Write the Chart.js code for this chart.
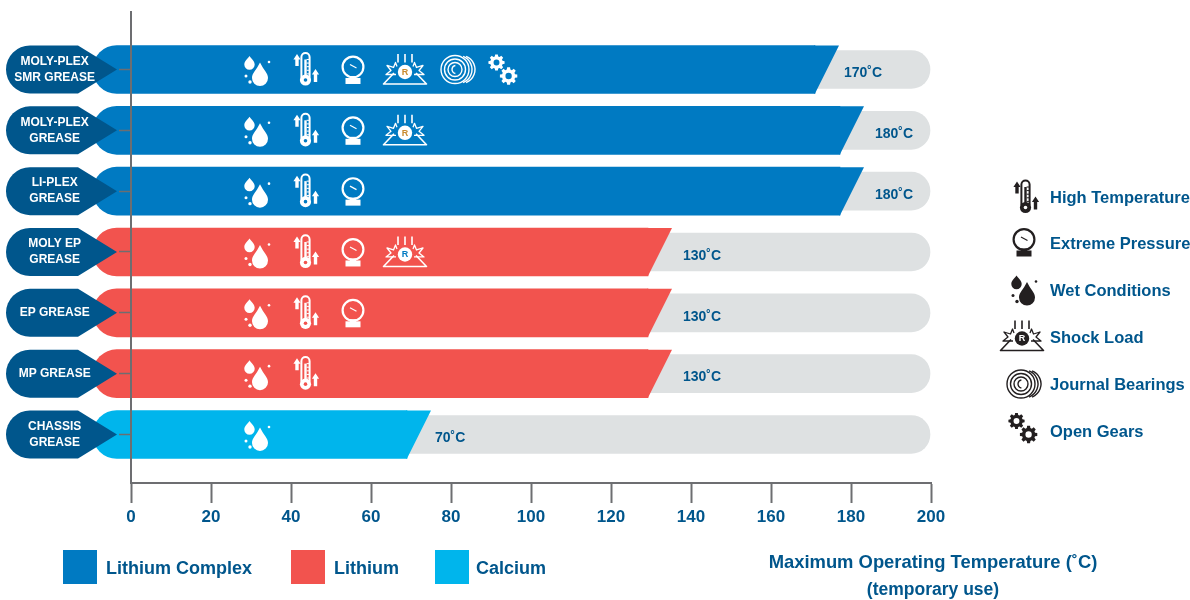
<!DOCTYPE html>
<html><head><meta charset="utf-8">
<style>html,body{margin:0;padding:0;background:#fff}canvas{display:block}</style>
<script src="https://cdn.jsdelivr.net/npm/chart.js@4/dist/chart.umd.min.js"></script>
</head><body><canvas id="c" width="1190" height="600"></canvas>
<script>
const categories = [["MOLY-PLEX","SMR GREASE"],["MOLY-PLEX","GREASE"],["LI-PLEX","GREASE"],["MOLY EP","GREASE"],"EP GREASE","MP GREASE",["CHASSIS","GREASE"]];
const lithiumComplexEnds = [171, 177.25, 177.25, null, null, null, null];
const lithiumEnds = [null, null, null, 129.25, 129.25, 129.25, null];
const calciumEnds = [null, null, null, null, null, null, 69];
const tempLabels = ["170˚C","180˚C","180˚C","130˚C","130˚C","130˚C","70˚C"];
const trackEnds = [199.75,199.75,199.75,199.75,199.75,199.75,199.75];
const iconCounts = [6,4,3,4,3,2,1];
const xTicks = [0,20,40,60,80,100,120,140,160,180,200];
const seriesNames = ["Lithium Complex","Lithium","Calcium"];
const legendIconNames = ["High Temperature","Extreme Pressure","Wet Conditions","Shock Load","Journal Bearings","Open Gears"];

const BLUE='#007ac2', RED='#f2534e', CYAN='#00b5ec', GREY='#dee1e2', NAVY='#00568c', AXIS='#6d6e71', INK='#231f20';
const FONT='"Liberation Sans", Arial, sans-serif';
const BAR_START=-9.5, SLANT=24;

function series(ends){return ends.map((v,i)=>v==null?null:{x:[BAR_START,v],y:i}).filter(Boolean);}

/* icons: local coordinates, origin = icon centre */
function drop(x,cy,r,tipY,c){
  x.beginPath();x.moveTo(c,tipY);
  x.bezierCurveTo(c+r*0.45,cy-r*1.0,c+r,cy-r*0.6,c+r,cy);
  x.arc(c,cy,r,0,Math.PI);
  x.bezierCurveTo(c-r,cy-r*0.6,c-r*0.45,cy-r*1.0,c,tipY);
  x.closePath();x.fill();
}
function dot(x,a,b,r){x.beginPath();x.arc(a,b,r,0,Math.PI*2);x.fill();}
function iconWet(x){
  drop(x,8.5,8,-7,3);drop(x,-5,5.2,-13.5,-7.5);
  dot(x,12,-7.5,1.3);dot(x,-11,6.5,1.5);dot(x,-7,12.5,1.7);
}
function arrow(x,c,top,bot){
  x.beginPath();x.moveTo(c,top);x.lineTo(c+3.6,top+5.5);x.lineTo(c+1.7,top+5.5);x.lineTo(c+1.7,bot);
  x.lineTo(c-1.7,bot);x.lineTo(c-1.7,top+5.5);x.lineTo(c-3.6,top+5.5);x.closePath();x.fill();
}
function iconTemp(x,bg){
  arrow(x,-9,-15.5,-3.5);arrow(x,9.5,-0.5,12.5);
  x.lineWidth=2;x.beginPath();x.moveTo(-4.6,8);x.lineTo(-4.6,-12.5);x.arc(-0.5,-12.5,4.1,Math.PI,0);x.lineTo(3.6,8);x.stroke();
  dot(x,-0.5,10.5,5.6);
  x.fillRect(-1.7,-10,2.4,18);
  x.lineWidth=1;for(let i=0;i<5;i++){x.beginPath();x.moveTo(0.6,-10+i*3.6);x.lineTo(3,-10+i*3.6);x.stroke();}
  x.fillStyle=bg;dot(x,-0.5,10.5,1.8);
}
function iconPressure(x){
  x.lineWidth=2.2;x.beginPath();x.arc(0,-2.5,10.4,0,Math.PI*2);x.stroke();
  x.lineWidth=1.2;x.beginPath();x.moveTo(-3,-5);x.lineTo(3.5,-1.5);x.stroke();
  x.fillRect(-3,6.5,6,3);
  x.fillRect(-7.5,8.5,15,6);
}
function iconShock(x,accent,circle){
  x.lineWidth=1.6;
  [-7,0,7].forEach(a=>{x.beginPath();x.moveTo(a,-15.5);x.lineTo(a,-7);x.stroke();});
  x.beginPath();x.moveTo(-11,3.5);x.lineTo(-21.5,14.5);x.lineTo(21.5,14.5);x.lineTo(11,3.5);x.stroke();
  x.lineWidth=1.3;
  x.beginPath();x.moveTo(-8,-3);x.lineTo(-9.5,-7);x.lineTo(-11.5,-2);x.lineTo(-18,-4);x.lineTo(-14,1);x.lineTo(-19,5);x.lineTo(-9,5);x.stroke();
  x.beginPath();x.moveTo(8,-3);x.lineTo(9.5,-7);x.lineTo(11.5,-2);x.lineTo(18,-4);x.lineTo(14,1);x.lineTo(19,5);x.lineTo(9,5);x.stroke();
  x.fillStyle=circle;dot(x,0,2.5,7.2);
  x.fillStyle=accent;x.font='bold 9px '+FONT;x.textAlign='center';x.textBaseline='middle';x.fillText('R',0,3);
}
function iconJournal(x){
  x.lineWidth=1.4;
  [[-3,14],[-3,10.5],[-3,7]].forEach(c=>{x.beginPath();x.arc(c[0],0,c[1],0,Math.PI*2);x.stroke();});
  [[0,14],[3,14]].forEach(c=>{x.beginPath();x.arc(c[0],0,c[1],-1.2,1.2);x.stroke();});
  x.beginPath();x.arc(-2,0,4,Math.PI*0.55,Math.PI*1.45);x.stroke();
}
function gear(x,cx,cy,R){
  const n=8,r=R*0.76;x.beginPath();
  for(let i=0;i<n;i++){
    const a=i*2*Math.PI/n,s=Math.PI/n;
    [[r,a-s*0.7],[R,a-s*0.42],[R,a+s*0.42],[r,a+s*0.7]].forEach((p,k)=>{
      const px=cx+p[0]*Math.cos(p[1]),py=cy+p[0]*Math.sin(p[1]);
      if(i===0&&k===0)x.moveTo(px,py);else x.lineTo(px,py);
    });
  }
  x.closePath();x.moveTo(cx+R*0.36,cy);x.arc(cx,cy,R*0.36,0,Math.PI*2,true);x.fill('evenodd');
}
function iconGears(x){gear(x,-6.5,-7,8.2);gear(x,5.6,6.5,8.8);}

const rowIconX=[257,306,353,405,458,503];
const legendIcons=[[1026,197],[1024,242],[1024,289],[1022,336],[1024,384],[1023,428]];
function drawIcon(x,kind,cx,cy,col,bg,accent,circle){
  x.save();x.translate(cx,cy);x.fillStyle=col;x.strokeStyle=col;x.lineJoin='round';
  if(kind===0)iconWet(x);
  if(kind===1)iconTemp(x,bg);
  if(kind===2)iconPressure(x);
  if(kind===3)iconShock(x,accent,circle);
  if(kind===4)iconJournal(x);
  if(kind===5)iconGears(x);
  x.restore();
}

const decor={
  id:'decor',
  afterDatasetsDraw(chart){
    const x=chart.ctx,yS=chart.scales.y;
    /* slanted bar ends */
    chart.data.datasets.forEach((ds,di)=>{
      if(ds.track)return;
      chart.getDatasetMeta(di).data.forEach(el=>{
        const top=el.y-el.height/2,bot=el.y+el.height/2;
        x.fillStyle=ds.backgroundColor;x.beginPath();
        x.moveTo(el.x-1,top);x.lineTo(el.x+SLANT,top);x.lineTo(el.x,bot);x.lineTo(el.x-1,bot);x.closePath();x.fill();
      });
    });
    const labelGap=[29,35,35,35,35,35,28];
    const labelRef=[171,177.25,177.25,129.25,129.25,129.25,69];
    categories.forEach((c,i)=>{
      const cy=yS.getPixelForValue(i);
      /* category tag */
      x.fillStyle=NAVY;x.beginPath();
      x.moveTo(78,cy-24);x.lineTo(117,cy);x.lineTo(78,cy+24);x.lineTo(30,cy+24);
      x.arc(30,cy,24,Math.PI/2,Math.PI*1.5);x.closePath();x.fill();
      /* value text */
      x.fillStyle=NAVY;x.font='bold 14px '+FONT;x.textAlign='left';x.textBaseline='middle';
      x.fillText(tempLabels[i],chart.scales.x.getPixelForValue(labelRef[i])+labelGap[i],cy+4);
      /* icons */
      const isRed=lithiumEnds[i]!=null,isCal=calciumEnds[i]!=null;
      const bg=isCal?CYAN:isRed?RED:BLUE;
      const accent=isRed?BLUE:'#c98a2e';
      for(let k=0;k<iconCounts[i];k++) drawIcon(x,k,rowIconX[k],cy,'#fff',bg,accent,'#fff');
    });
  },
  afterDraw(chart){
    const x=chart.ctx;
    /* legend of greases */
    const sw=[63,291,435],col=[BLUE,RED,CYAN],gap=[43,43,41];
    x.textAlign='left';x.textBaseline='middle';
    seriesNames.forEach((n,i)=>{
      x.fillStyle=col[i];x.fillRect(sw[i],550,34,34);
      x.fillStyle=NAVY;x.font='bold 18px '+FONT;x.fillText(n,sw[i]+gap[i],569);
    });
    /* legend of conditions */
    const kinds=[1,2,0,3,4,5],ly=[198.5,244.5,291.5,338.5,385.5,432.5];
    legendIconNames.forEach((n,i)=>{
      drawIcon(x,kinds[i],legendIcons[i][0],legendIcons[i][1],INK,'#fff','#fff',INK);
      x.textAlign='left';x.textBaseline='middle';
      x.fillStyle=NAVY;x.font='bold 16.5px '+FONT;x.fillText(n,1050,ly[i]);
    });
    /* axis caption */
    x.fillStyle=NAVY;x.font='bold 18.4px '+FONT;x.textAlign='center';
    x.fillText('Maximum Operating Temperature (˚C)',933,563);
    x.font='bold 17.5px '+FONT;x.fillText('(temporary use)',933,590);
  }
};

new Chart(document.getElementById('c'),{
  type:'bar',
  plugins:[decor],
  data:{datasets:[
    {label:seriesNames[0],data:series(lithiumComplexEnds),backgroundColor:BLUE,barThickness:48,grouped:false,order:1,clip:false,borderSkipped:false,borderRadius:{topLeft:24,bottomLeft:24,topRight:0,bottomRight:0}},
    {label:seriesNames[1],data:series(lithiumEnds),backgroundColor:RED,barThickness:48,grouped:false,order:1,clip:false,borderSkipped:false,borderRadius:{topLeft:24,bottomLeft:24,topRight:0,bottomRight:0}},
    {label:seriesNames[2],data:series(calciumEnds),backgroundColor:CYAN,barThickness:48,grouped:false,order:1,clip:false,borderSkipped:false,borderRadius:{topLeft:24,bottomLeft:24,topRight:0,bottomRight:0}},
    {label:'Temperature range',track:true,data:trackEnds.map((v,i)=>({x:[0,v],y:i})),backgroundColor:GREY,barThickness:38,grouped:false,order:2,clip:false,borderSkipped:false,borderRadius:{topLeft:0,bottomLeft:0,topRight:19,bottomRight:19}}
  ]},
  options:{
    indexAxis:'y',responsive:false,animation:false,
    layout:{autoPadding:false,padding:{top:12,right:259,left:0,bottom:0}},
    plugins:{legend:{display:false},tooltip:{enabled:false}},
    scales:{
      x:{type:'linear',position:'bottom',min:0,max:200,
        afterFit(s){s.height=117;s.paddingLeft=0;s.paddingRight=0;},
        afterBuildTicks(s){s.ticks=xTicks.map(v=>({value:v}));},
        grid:{drawOnChartArea:false,drawTicks:true,tickLength:20,tickWidth:2,tickColor:AXIS,color:AXIS,z:1},
        border:{color:AXIS,width:2,z:1},
        ticks:{color:NAVY,font:{family:FONT,weight:'bold',size:17},padding:4,maxRotation:0,autoSkip:false}},
      y:{type:'linear',position:'left',reverse:true,offset:false,min:-0.945,max:6.798,
        afterFit(s){s.width=131;s.paddingTop=0;s.paddingBottom=0;},
        grid:{offset:false,drawOnChartArea:false,drawTicks:true,tickLength:12,tickWidth:1.5,tickColor:AXIS,color:AXIS,z:1},
        border:{color:AXIS,width:2,z:1},
        ticks:{z:2,stepSize:1,includeBounds:false,autoSkip:false,crossAlign:'center',padding:24,color:'#fff',
          font:{family:FONT,weight:'bold',size:12,lineHeight:1.33},
          callback:v=>categories[v]}}
    }
  }
});
</script></body></html>
